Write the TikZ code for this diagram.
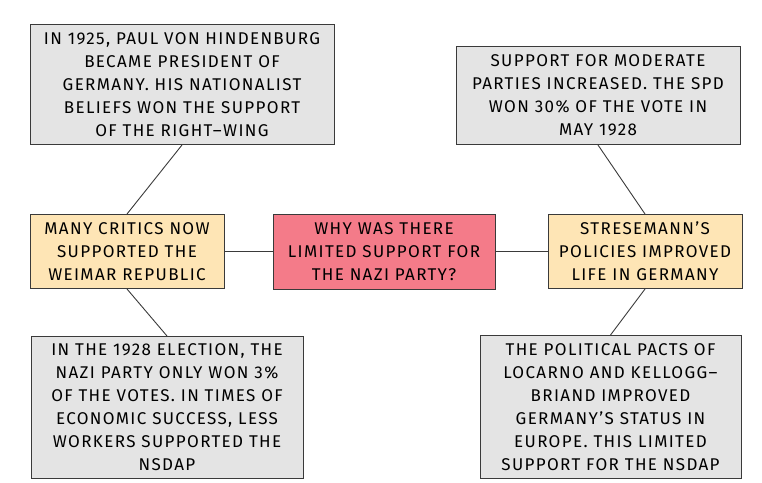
\documentclass[tikz,border=0pt]{standalone}
\usepackage{fontspec}
\setmainfont{Fira Sans}[LetterSpace=8]
\usetikzlibrary{positioning}
\definecolor{notegray}{HTML}{E4E4E4}
\definecolor{causeyellow}{HTML}{FEE5B5}
\definecolor{questionred}{HTML}{F47B89}
\definecolor{edgegray}{HTML}{3A3A3A}

\begin{document}
\begin{tikzpicture}[x=1pt,y=1pt,node distance=48pt,
  box/.style={draw=edgegray,line width=1pt,align=center,inner sep=0pt,font=\fontsize{17}{23}\selectfont},
  note/.style={box,fill=notegray},
  cause/.style={box,fill=causeyellow,minimum width=194pt,minimum height=74pt},
  link/.style={draw=edgegray,line width=0.9pt}]
\useasboundingbox (0,0) rectangle (762,-482);
\node[box,fill=questionred,minimum width=222pt,minimum height=75pt] (why) at (384,-251.5) {WHY WAS THERE\\LIMITED SUPPORT FOR\\THE NAZI PARTY?};
\node[cause,left=48pt of why] (critics) {MANY CRITICS NOW\\SUPPORTED THE\\WEIMAR REPUBLIC};
\node[cause,right=52pt of why] (strese) {STRESEMANN'S\\POLICIES IMPROVED\\LIFE IN GERMANY};
\node[note,minimum width=304pt,minimum height=120pt,above=69pt of critics,xshift=55pt] (hinden) {IN 1925, PAUL VON HINDENBURG\\BECAME PRESIDENT OF\\GERMANY. HIS NATIONALIST\\BELIEFS WON THE SUPPORT\\OF THE RIGHT--WING};
\node[note,minimum width=272pt,minimum height=142pt,below=47pt of critics,xshift=40pt] (election) {IN THE 1928 ELECTION, THE\\NAZI PARTY ONLY WON 3\%\\OF THE VOTES. IN TIMES OF\\ECONOMIC SUCCESS, LESS\\WORKERS SUPPORTED THE\\NSDAP};
\node[note,minimum width=284pt,minimum height=98pt,above=69pt of strese,xshift=-47pt] (spd) {SUPPORT FOR MODERATE\\PARTIES INCREASED. THE SPD\\WON 30\% OF THE VOTE IN\\MAY 1928};
\node[note,minimum width=261pt,minimum height=143pt,below=46pt of strese,xshift=-34.5pt] (pacts) {THE POLITICAL PACTS OF\\LOCARNO AND KELLOGG--\\BRIAND IMPROVED\\GERMANY'S STATUS IN\\EUROPE. THIS LIMITED\\SUPPORT FOR THE NSDAP};
\draw[link] (critics)--(why);
\draw[link] (why)--(strese);
\draw[link] (hinden.south)--(critics.north);
\draw[link] (critics.south)--(election.north);
\draw[link] (spd.south)--(strese.north);
\draw[link] (strese.south)--(pacts.north);
\end{tikzpicture}
\end{document}
